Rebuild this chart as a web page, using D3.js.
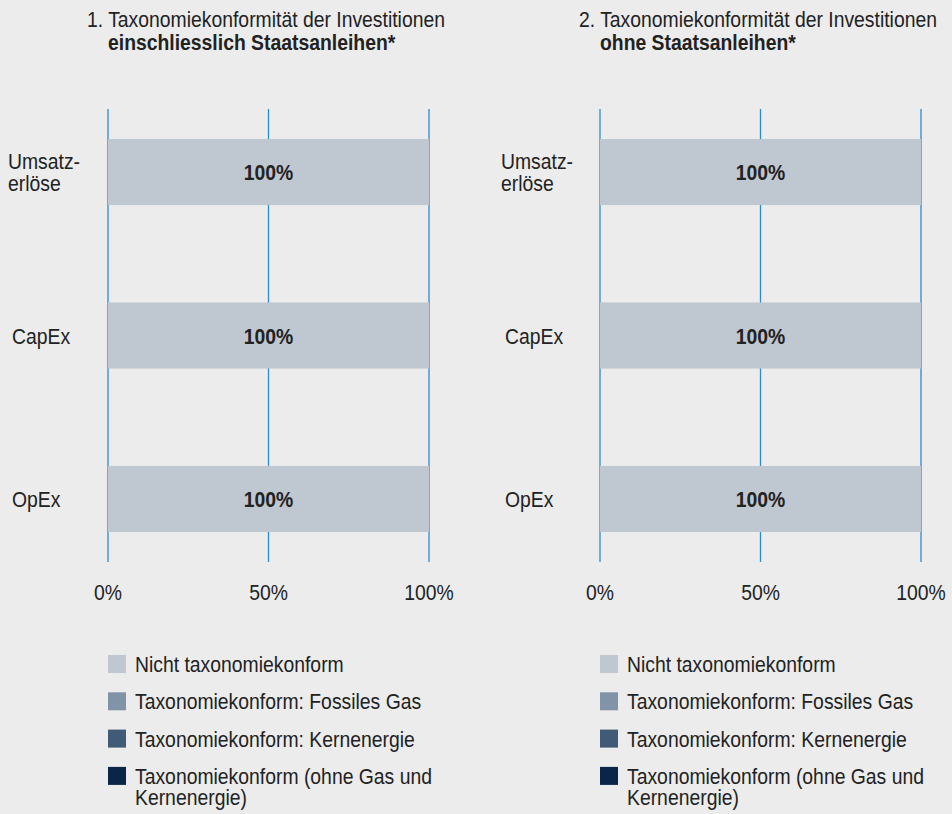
<!DOCTYPE html>
<html>
<head>
<meta charset="utf-8">
<script src="https://cdn.jsdelivr.net/npm/d3@7"></script>
<style>
  body { margin: 0; background: #ebeceb; }
  svg { display: block; font-family: "Liberation Sans", Arial, sans-serif; }
</style>
</head>
<body>
<div id="chart"></div>
<script>
const WIDTH = 952;
const HEIGHT = 814;
const NARROW = 0.88;   // horizontal squeeze to mimic a narrow face

// data
const categories = ['Umsatzerlöse', 'CapEx', 'OpEx'];
const categoryLines = [['Umsatz-', 'erlöse'], ['CapEx'], ['OpEx']];
const seriesNames = [
    'Nicht taxonomiekonform',
    'Taxonomiekonform: Fossiles Gas',
    'Taxonomiekonform: Kernenergie',
    'Taxonomiekonform (ohne Gas und Kernenergie)'
];
const seriesColors = ['#bfc7d0', '#8193a6', '#415a75', '#0b2548'];
const legendLines = [
    ['Nicht taxonomiekonform'],
    ['Taxonomiekonform: Fossiles Gas'],
    ['Taxonomiekonform: Kernenergie'],
    ['Taxonomiekonform (ohne Gas und', 'Kernenergie)']
];
// values per category, one array per series (percent)
const inclNicht = [100, 100, 100];
const inclGas = [0, 0, 0];
const inclKern = [0, 0, 0];
const inclOhne = [0, 0, 0];
const exclNicht = [100, 100, 100];
const exclGas = [0, 0, 0];
const exclKern = [0, 0, 0];
const exclOhne = [0, 0, 0];
const xTicks = [0, 50, 100];

const panels = [
    {
        title: '1. Taxonomiekonformität der Investitionen',
        bold: 'einschliesslich Staatsanleihen*',
        series: [inclNicht, inclGas, inclKern, inclOhne],
        x0: 108, x1: 429, labelX: 8
    },
    {
        title: '2. Taxonomiekonformität der Investitionen',
        bold: 'ohne Staatsanleihen*',
        series: [exclNicht, exclGas, exclKern, exclOhne],
        x0: 600, x1: 921, labelX: 501
    }
];

var svg = d3.select('#chart')
    .append('svg')
    .attr('width', WIDTH)
    .attr('height', HEIGHT);

svg.append('rect')
    .attr('width', WIDTH)
    .attr('height', HEIGHT)
    .attr('fill', '#ebeceb');


// text squeezed horizontally; lines stack downward from the first baseline
function addText(g, x, y, lines, opts) {
    opts = opts || {};
    let t = g.append('text')
        .attr('transform', `translate(${x},${y}) scale(${NARROW},1)`)
        .attr('font-size', opts.size || 22)
        .attr('font-weight', opts.weight || 'normal')
        .attr('text-anchor', opts.anchor || 'start')
        .attr('fill', opts.fill || '#222');
    lines.forEach((ln, j) => {
        t.append('tspan')
            .attr('x', 0)
            .attr('y', j * (opts.lineHeight || 21))
            .text(ln);
    });
    return t;
}


function drawPanel(p) {
    let g = svg.append('g');

    let x = d3.scaleLinear().domain([0, 100]).range([p.x0, p.x1]);
    let y = d3.scaleBand()
        .domain(categories)
        .range([109, 562])
        .paddingInner(0.596)
        .paddingOuter(0.1835);

    // title
    addText(g, p.x0 - 21, 27, [p.title]);
    addText(g, p.x0, 50, [p.bold], { weight: 'bold' });

    // gridlines
    g.selectAll('line.grid')
        .data(xTicks)
        .enter()
        .append('line')
        .attr('class', 'grid')
        .attr('x1', d => x(d))
        .attr('x2', d => x(d))
        .attr('y1', 109)
        .attr('y2', 562)
        .attr('stroke', '#2f8ad0')
        .attr('stroke-width', 1.3);

    // stacked bars
    let rows = categories.map((c, i) => {
        let r = { cat: c };
        seriesNames.forEach((s, k) => { r[s] = p.series[k][i]; });
        return r;
    });
    let stacked = d3.stack().keys(seriesNames)(rows);

    stacked.forEach((layer, k) => {
        let segs = layer.filter(d => d[1] - d[0] > 0);
        g.selectAll(null)
            .data(segs)
            .enter()
            .append('rect')
            .attr('x', d => x(d[0]))
            .attr('y', d => y(d.data.cat))
            .attr('width', d => x(d[1]) - x(d[0]))
            .attr('height', y.bandwidth())
            .attr('fill', seriesColors[k]);

        segs.forEach(d => {
            addText(g, (x(d[0]) + x(d[1])) / 2, y(d.data.cat) + y.bandwidth() / 2 + 8,
                [Math.round(d[1] - d[0]) + '%'],
                { weight: 'bold', anchor: 'middle', fill: k < 2 ? '#222' : '#fff' });
        });
    });

    // category labels
    categories.forEach((c, i) => {
        let lines = categoryLines[i];
        let cy = y(c) + y.bandwidth() / 2;
        let lx = lines.length > 1 ? p.labelX : p.labelX + 4;
        addText(g, lx, cy + 8 - (lines.length - 1) * 11, lines, { lineHeight: 22 });
    });

    // x tick labels
    xTicks.forEach(d => {
        addText(g, x(d), 600, [d + '%'], { anchor: 'middle' });
    });

    // legend
    let ly = 655;
    legendLines.forEach((lines, k) => {
        g.append('rect')
            .attr('x', p.x0)
            .attr('y', ly)
            .attr('width', 18)
            .attr('height', 18)
            .attr('fill', seriesColors[k]);
        addText(g, p.x0 + 27, ly + 17, lines, { lineHeight: 21 });
        ly += 37.3;
    });
}

panels.forEach(drawPanel);
</script>
</body>
</html>
